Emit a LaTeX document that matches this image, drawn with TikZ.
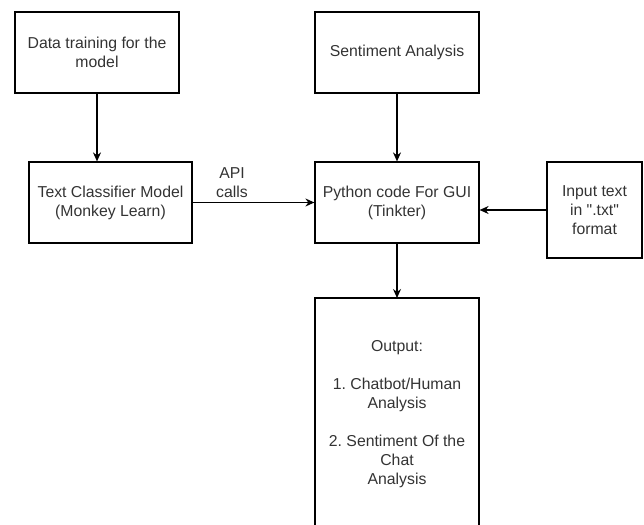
\documentclass[tikz,border=0pt]{standalone}
\usepackage{fontspec}
\newfontfamily\lib{Liberation Sans}
\usetikzlibrary{arrows.meta}
\definecolor{txt}{HTML}{333333}
\frenchspacing
\begin{document}
\begin{tikzpicture}[x=1pt,y=-1pt,
  box/.style={draw=black, line width=1.2pt, inner sep=0pt, align=center, text=txt,
    font=\lib\fontsize{15.8}{19}\selectfont, minimum width=164pt, minimum height=81pt},
  lbl/.style={inner sep=0pt, align=center, text=txt, font=\lib\fontsize{15.8}{19}\selectfont},
  conn/.style={line width=1.2pt, -{Stealth[length=9pt,width=8pt]}}]
\useasboundingbox (0,0) rectangle (644,524);
\node[box] (data) at (97,52.5) {Data training for the\\model};
\node[box, minimum width=163pt] (clf) at (110.5,202.5) {Text Classifier Model\\(Monkey Learn)};
\node[box] (sent) at (397,52.5) {Sentiment Analysis};
\node[box] (py) at (397,202.5) {Python code For GUI\\(Tinkter)};
\node[box, minimum width=95pt, minimum height=96pt] (inp) at (594.5,210) {Input text\\in ".txt"\\format};
\coordinate (outTL) at (315,298);
\coordinate (outTR) at (479,298);
\coordinate (outBL) at (315,526);
\coordinate (outBR) at (479,526);
\coordinate (outTop) at (397,298);
\draw[line width=1.2pt] (outBL) -- (outTL) -- (outTR) -- (outBR);
\node[lbl] (outtext) at (397,414.5) {Output:\\[19pt]1.\ Chatbot/Human\\Analysis\\[19pt]2.\ Sentiment Of the\\Chat\\Analysis};
\node[lbl] (api) at (232,183) {API\\calls};
\draw[conn] (data.south) -- (data.south |- clf.north);
\draw[conn] (clf.east) -- (py.west);
\draw[conn] (sent.south) -- (py.north);
\draw[conn] (inp.west) -- (inp.west -| py.east);
\draw[conn] (py.south) -- (outTop);
\end{tikzpicture}
\end{document}
